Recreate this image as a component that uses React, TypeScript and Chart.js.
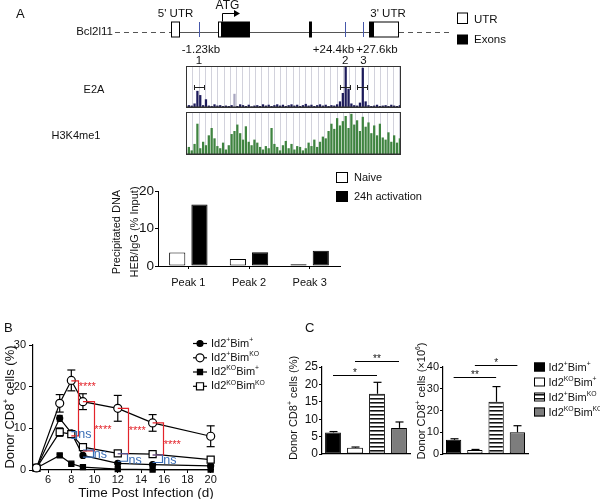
import React, { useEffect, useRef } from 'react';
import { Chart, registerables } from 'chart.js';

Chart.register(...registerables);

const FONT = '"Liberation Sans", Arial, Helvetica, sans-serif';
Chart.defaults.font.family = FONT;
Chart.defaults.color = '#111';

// ---------------- DATA ----------------
// Panel A – gene model (kb relative to TSS)
const trackMinKb = -3.5;
const trackMaxKb = 34.2;
const trackStepKb = 0.5;
const trackGridKb = 1.1;
const peakPositionsKb = [-1.23, 24.4, 27.6];
const peakDistanceLabels = ['-1.23kb', '+24.4kb', '+27.6kb'];
const peakNumbers = ['1', '2', '3'];
const utrBoxesKb = [[-6.13, -4.55], [2.11, 2.81], [29.29, 33.85]];
const exonBoxesKb = [[2.81, 7.72], [18.07, 18.59], [28.59, 29.29]];
const geneSolidKb = [-6.13, 33.85];
const geneDashedKb = [[-15.95, -6.13], [33.85, 42.8]];
const atgArrowKb = [2.81, 5.79];
const e2aPeakRegionsKb = [[-2.1, -0.34], [23.5, 25.26], [26.48, 28.24]];

const e2aSignal = [
  0.04, 0.06, 0.05, 0.10, 0.40, 0.30, 0.06, 0.20, 0.05, 0.04,
  0.08, 0.05, 0.06, 0.04, 0.05, 0.04, 0.06, 0.33, 0.04, 0.08,
  0.06, 0.04, 0.07, 0.03, 0.05, 0.06, 0.04, 0.08, 0.05, 0.07,
  0.04, 0.06, 0.08, 0.05, 0.07, 0.04, 0.06, 0.08, 0.05, 0.07,
  0.04, 0.06, 0.09, 0.05, 0.07, 0.04, 0.06, 0.08, 0.05, 0.07,
  0.04, 0.06, 0.05, 0.08, 0.15, 0.35, 1.00, 0.45, 0.10, 0.06,
  0.05, 0.12, 0.95, 0.15, 0.06, 0.04, 0.05, 0.07, 0.04, 0.05,
  0.06, 0.04, 0.07, 0.05, 0.04, 0.06,
];
const e2aFaintIndex = [17];

const h3k4me1Signal = [
  0.12, 0.18, 0.10, 0.25, 0.72, 0.15, 0.30, 0.22, 0.45, 0.62,
  0.38, 0.20, 0.15, 0.28, 0.12, 0.22, 0.48, 0.55, 0.70, 0.50,
  0.35, 0.66, 0.30, 0.22, 0.35, 0.28, 0.18, 0.12, 0.20, 0.15,
  0.62, 0.25, 0.18, 0.10, 0.22, 0.32, 0.15, 0.25, 0.12, 0.20,
  0.18, 0.10, 0.15, 0.28, 0.20, 0.35, 0.18, 0.30, 0.42, 0.38,
  0.55, 0.72, 0.60, 0.85, 0.68, 0.78, 0.90, 0.62, 0.95, 0.70,
  0.80, 0.55, 0.88, 0.65, 0.75, 0.50, 0.68, 0.45, 0.72, 0.40,
  0.35, 0.52, 0.30, 0.45, 0.28, 0.38,
];

// Panel A – ChIP bar chart
const peakCategories = ['Peak 1', 'Peak 2', 'Peak 3'];
const naiveValues = [3.6, 1.85, 0.5];
const activatedValues = [16.4, 3.7, 4.1];
const chipSeriesNames = ['Naive', '24h activation'];
const chipTicks = [0, 5, 10, 15, 20];

// Panel B – kinetics
const daysB = [5, 7, 8, 9, 12, 15, 20];
const id2WtBimWt = [0.5, 12.4, 8.9, 3.5, 1.6, 1.3, 1.0];
const id2WtBimWtErr = [0, 0.7, 0.5, 0.4, 0.3, 0.3, 0.2];
const id2WtBimKo = [0.5, 16.0, 21.5, 16.4, 14.8, 11.3, 8.1];
const id2WtBimKoErr = [0, 2.1, 2.5, 1.9, 3.1, 2.0, 2.5];
const id2KoBimWt = [0.5, 3.5, 1.5, 0.7, 0.2, 0.1, 0.1];
const id2KoBimWtErr = [0, 0.3, 0.2, 0.1, 0.05, 0.05, 0.05];
const id2KoBimKo = [0.5, 9.1, 8.6, 5.5, 4.0, 3.8, 2.5];
const id2KoBimKoErr = [0, 1.0, 0.6, 0.5, 0.4, 0.3, 0.3];
const xTicksB = [6, 8, 10, 12, 14, 16, 18, 20];
const yTicksB = [0, 10, 20, 30];
const legendB = ['Id2{+}Bim{+}', 'Id2{+}Bim{KO}', 'Id2{KO}Bim{+}', 'Id2{KO}Bim{KO}'];
const redBracketsB = [
  { x0: 8, xb: 8.55, yTop: 21.4, yBot: 8.2, lx: 8.64, ly: 20.7, label: '****' },
  { x0: 9, xb: 9.93, yTop: 16.4, yBot: 4.6, lx: 9.98, ly: 10.4, label: '****' },
  { x0: 12, xb: 12.86, yTop: 14.8, yBot: 3.9, lx: 12.94, ly: 10.0, label: '****' },
  { x0: 15, xb: 15.87, yTop: 11.3, yBot: 3.6, lx: 15.96, ly: 6.8, label: '****' },
];
const nsBracketsB = [
  { x0: 8, xb: 8.43, yTop: 9.2, yBot: 7.6, lx: 8.6, ly: 8.4, label: 'ns' },
  { x0: 9, xb: 9.84, yTop: 4.8, yBot: 3.1, lx: 9.93, ly: 3.6, label: 'ns' },
  { x0: 12, xb: 12.8, yTop: 3.9, yBot: 2.1, lx: 12.92, ly: 2.35, label: 'ns' },
  { x0: 15, xb: 15.8, yTop: 3.6, yBot: 1.8, lx: 15.92, ly: 2.35, label: 'ns' },
];

// Panel C
const groupsC = ['Id2{+}Bim{+}', 'Id2{KO}Bim{+}', 'Id2{+}Bim{KO}', 'Id2{KO}Bim{KO}'];
const percentValues = [6.2, 1.8, 17.3, 7.5];
const percentErr = [0.25, 0.2, 3.3, 1.7];
const countValues = [6.5, 1.8, 24.0, 10.0];
const countErr = [0.5, 0.3, 7.0, 3.0];
const yTicksPct = [0, 5, 10, 15, 20, 25];
const yTicksCount = [0, 10, 20, 30, 40];
const sigPct = [
  { from: 0, to: 2, y: 22.6, label: '*' },
  { from: 1, to: 3, y: 26.7, label: '**' },
];
const sigCount = [
  { from: 0, to: 2, y: 35.2, label: '**' },
  { from: 1, to: 3, y: 40.7, label: '*' },
];

// ---------------- HELPERS ----------------
type Seg = { t: string; sup: boolean };
function parseRich(label: string): Seg[] {
  const out: Seg[] = [];
  const re = /\{([^}]*)\}|([^{]+)/g;
  let m: RegExpExecArray | null;
  while ((m = re.exec(label))) {
    if (m[1] !== undefined) out.push({ t: m[1], sup: true });
    else out.push({ t: m[2], sup: false });
  }
  return out;
}
const fnt = (size: number) => `${size}px ${FONT}`;
function richWidth(ctx: CanvasRenderingContext2D, label: string, size: number) {
  let w = 0;
  for (const s of parseRich(label)) {
    ctx.font = fnt(s.sup ? size * 0.62 : size);
    w += ctx.measureText(s.t).width;
  }
  return w;
}
function drawRich(ctx: CanvasRenderingContext2D, label: string, x: number, y: number, size: number, align = 'left', color = '#111') {
  const w = richWidth(ctx, label, size);
  let cx = align === 'center' ? x - w / 2 : align === 'right' ? x - w : x;
  ctx.fillStyle = color;
  ctx.textAlign = 'left';
  ctx.textBaseline = 'middle';
  for (const s of parseRich(label)) {
    ctx.font = fnt(s.sup ? size * 0.62 : size);
    ctx.fillText(s.t, cx, s.sup ? y - size * 0.33 : y);
    cx += ctx.measureText(s.t).width;
  }
}
function drawRotated(ctx: CanvasRenderingContext2D, label: string, cx: number, cy: number, size: number) {
  ctx.save();
  ctx.translate(cx, cy);
  ctx.rotate(-Math.PI / 2);
  drawRich(ctx, label, 0, 0, size, 'center');
  ctx.restore();
}
function hline(ctx: CanvasRenderingContext2D, x1: number, x2: number, y: number) {
  ctx.beginPath(); ctx.moveTo(x1, y); ctx.lineTo(x2, y); ctx.stroke();
}
function vline(ctx: CanvasRenderingContext2D, x: number, y1: number, y2: number) {
  ctx.beginPath(); ctx.moveTo(x, y1); ctx.lineTo(x, y2); ctx.stroke();
}

const baseOptions = (padding: any) => ({
  animation: false,
  responsive: false,
  maintainAspectRatio: false,
  events: [],
  layout: { padding },
  plugins: { legend: { display: false }, tooltip: { enabled: false } },
});

// ---------------- PLUGINS ----------------
const trackFramePlugin = {
  id: 'trackFrame',
  beforeDatasetsDraw(chart: any) {
    const { ctx, chartArea: a } = chart;
    const xs = chart.scales.x;
    ctx.save();
    ctx.strokeStyle = '#d2d2dc';
    ctx.lineWidth = 1;
    for (let k = trackMinKb + trackGridKb; k < trackMaxKb; k += trackGridKb) {
      const px = Math.round(xs.getPixelForValue(k)) + 0.5;
      vline(ctx, px, a.top, a.bottom);
    }
    ctx.restore();
  },
  afterDatasetsDraw(chart: any) {
    const { ctx, chartArea: a } = chart;
    ctx.save();
    ctx.strokeStyle = '#333';
    ctx.lineWidth = 1;
    ctx.strokeRect(Math.round(a.left) + 0.5, Math.round(a.top) + 0.5, Math.round(a.right - a.left) - 1, Math.round(a.bottom - a.top) - 1);
    ctx.lineWidth = 1.5;
    hline(ctx, a.left, a.right, a.bottom - 0.8);
    ctx.restore();
  },
};

const genePlugin = {
  id: 'gene',
  afterDraw(chart: any) {
    const { ctx, chartArea: a } = chart;
    const xs = chart.scales.x;
    const ys = chart.scales.y;
    const X = (kb: number) => xs.getPixelForValue(kb);
    const yMid = 32, yTop = 21.5, yBot = 37.5;
    ctx.save();
    ctx.strokeStyle = '#555';
    ctx.lineWidth = 1;
    ctx.setLineDash([5, 4]);
    for (const [s, e] of geneDashedKb) hline(ctx, X(s), X(e), yMid + 0.5);
    ctx.setLineDash([]);
    hline(ctx, X(geneSolidKb[0]), X(geneSolidKb[1]), yMid + 0.5);
    // peak positions (blue)
    ctx.strokeStyle = '#4657aa';
    for (const p of peakPositionsKb) vline(ctx, Math.round(X(p)) + 0.5, 22, 37);
    // exons
    ctx.fillStyle = '#000';
    for (const [s, e] of exonBoxesKb) ctx.fillRect(X(s), yTop, X(e) - X(s), yBot - yTop);
    ctx.strokeStyle = '#000';
    ctx.fillStyle = '#fff';
    for (const [s, e] of utrBoxesKb) {
      ctx.fillRect(X(s), yTop, X(e) - X(s), yBot - yTop);
      ctx.strokeRect(Math.round(X(s)) + 0.5, yTop + 0.5, Math.round(X(e) - X(s)) - 1, yBot - yTop - 1);
    }
    // ATG arrow
    const ax = Math.round(X(atgArrowKb[0])) + 0.5, ae = X(atgArrowKb[1]);
    ctx.beginPath();
    ctx.moveTo(ax, yTop); ctx.lineTo(ax, 13.5); ctx.lineTo(ae - 3, 13.5); ctx.stroke();
    ctx.fillStyle = '#000';
    ctx.beginPath();
    ctx.moveTo(ae + 1, 13.5); ctx.lineTo(ae - 5, 10); ctx.lineTo(ae - 5, 17); ctx.closePath(); ctx.fill();
    drawRich(ctx, 'ATG', ax + 5, 6, 12, 'center');
    // UTR labels
    drawRich(ctx, "5' UTR", (X(utrBoxesKb[0][0]) + X(utrBoxesKb[0][1])) / 2, 14, 11.5, 'center');
    drawRich(ctx, "3' UTR", (X(exonBoxesKb[2][0]) + X(utrBoxesKb[2][1])) / 2 + 4, 14, 11.5, 'center');
    drawRich(ctx, 'Bcl2l11', X(geneDashedKb[0][0]) - 2, yMid, 11.5, 'right');
    // peak labels
    drawRich(ctx, peakDistanceLabels[0], X(peakPositionsKb[0]) + 2, 50, 11.5, 'center');
    drawRich(ctx, peakDistanceLabels[1], X(peakPositionsKb[1]) + 9, 50, 11.5, 'right');
    drawRich(ctx, peakDistanceLabels[2], X(peakPositionsKb[2]) - 7, 50, 11.5, 'left');
    peakNumbers.forEach((n, i) => drawRich(ctx, n, X(peakPositionsKb[i]), 61, 11.5, 'center'));
    // legend
    ctx.fillStyle = '#fff';
    ctx.strokeStyle = '#000';
    ctx.fillRect(457, 12.5, 11, 11.5);
    ctx.strokeRect(457.5, 13, 10, 10.5);
    ctx.fillStyle = '#000';
    ctx.fillRect(457, 34.5, 11, 10);
    drawRich(ctx, 'UTR', 474, 19.5, 11.5);
    drawRich(ctx, 'Exons', 474, 40, 11.5);
    // panel letter
    drawRich(ctx, 'A', 16, 14, 13);
    // track label
    drawRich(ctx, 'E2A', 94, (a.top + a.bottom) / 2 + 3, 11, 'center');
    // E2A peak regions
    ctx.strokeStyle = '#222';
    ctx.lineWidth = 1;
    const yr = Math.round(ys.getPixelForValue(0.5)) + 0.5;
    for (const [s, e] of e2aPeakRegionsKb) {
      hline(ctx, X(s), X(e), yr);
      vline(ctx, Math.round(X(s)) + 0.5, yr - 2.5, yr + 2.5);
      vline(ctx, Math.round(X(e)) + 0.5, yr - 2.5, yr + 2.5);
    }
    ctx.restore();
  },
};

const h3Plugin = {
  id: 'h3',
  afterDraw(chart: any) {
    const { ctx, chartArea: a } = chart;
    ctx.save();
    drawRich(ctx, 'H3K4me1', 76, (a.top + a.bottom) / 2 + 2, 11, 'center');
    ctx.restore();
  },
};

function trackConfig(values: number[], colors: string[], padding: any, plugin: any) {
  return {
    type: 'bar',
    data: {
      datasets: [{
        data: values.map((v, i) => ({ x: trackMinKb + i * trackStepKb, y: v })),
        backgroundColor: colors,
        borderWidth: 0,
        barThickness: 1.6,
        grouped: false,
      }],
    },
    options: {
      ...baseOptions(padding),
      scales: {
        x: { type: 'linear', offset: false, min: trackMinKb, max: trackMaxKb, display: false },
        y: { min: 0, max: 1, display: false },
      },
    },
    plugins: [trackFramePlugin, plugin],
  };
}

function e2aConfig() {
  const colors = e2aSignal.map((_, i) => (e2aFaintIndex.includes(i) ? '#a9a7c0' : '#1c1a5a'));
  return trackConfig(e2aSignal, colors, { left: 186, right: 199, top: 66, bottom: 2 }, genePlugin);
}
function h3Config() {
  const colors = h3k4me1Signal.map(() => '#3f8440');
  return trackConfig(h3k4me1Signal, colors, { left: 186, right: 199, top: 2, bottom: 7 }, h3Plugin);
}

// ChIP bar chart
const chipPlugin = {
  id: 'chipExtras',
  afterDraw(chart: any) {
    const { ctx } = chart;
    ctx.save();
    drawRotated(ctx, 'Precipitated DNA', 117, 72, 11);
    drawRotated(ctx, 'HEB/IgG (% Input)', 135, 72, 11);
    const ds = chart.data.datasets;
    ctx.lineWidth = 1;
    ctx.strokeStyle = '#000';
    ctx.fillStyle = ds[0].backgroundColor;
    ctx.fillRect(336, 12, 12, 11);
    ctx.strokeRect(336.5, 12.5, 11, 10);
    ctx.fillStyle = ds[1].backgroundColor;
    ctx.fillRect(336, 31, 12, 11);
    drawRich(ctx, chipSeriesNames[0], 354, 18, 11);
    drawRich(ctx, chipSeriesNames[1], 354, 37, 11);
    ctx.restore();
  },
};
function chipConfig() {
  const common = { borderColor: '#000', borderWidth: 1, categoryPercentage: 0.733, barPercentage: 0.727, borderSkipped: false };
  return {
    type: 'bar',
    data: {
      labels: peakCategories,
      datasets: [
        { label: chipSeriesNames[0], data: naiveValues, backgroundColor: '#ffffff', ...common },
        { label: chipSeriesNames[1], data: activatedValues, backgroundColor: '#000000', ...common },
      ],
    },
    options: {
      ...baseOptions({ left: 130, right: 260, top: 31, bottom: 4 }),
      scales: {
        x: {
          grid: { display: true, drawOnChartArea: false, offset: false, tickLength: 3, color: '#000' },
          border: { color: '#000', width: 1 },
          ticks: { font: { size: 11 }, color: '#111', padding: 7 },
          afterFit: (s: any) => { s.height = 30; },
        },
        y: {
          min: 0, max: 20,
          afterBuildTicks: (s: any) => { s.ticks = chipTicks.map((v) => ({ value: v })); },
          grid: { drawOnChartArea: false, tickLength: 3, color: '#000' },
          border: { color: '#000', width: 1 },
          ticks: { font: { size: 13.5 }, color: '#111', padding: 1 },
          afterFit: (s: any) => { s.width = 28; },
        },
      },
    },
    plugins: [chipPlugin],
  };
}

// Panel B
const seriesB = [
  { name: legendB[0], values: id2WtBimWt, err: id2WtBimWtErr, style: 'circle', radius: 3, fill: '#000', order: 2, cap: 3 },
  { name: legendB[1], values: id2WtBimKo, err: id2WtBimKoErr, style: 'circle', radius: 4, fill: '#fff', order: 0, cap: 4 },
  { name: legendB[2], values: id2KoBimWt, err: id2KoBimWtErr, style: 'rect', radius: 3.6, fill: '#000', order: 3, cap: 3 },
  { name: legendB[3], values: id2KoBimKo, err: id2KoBimKoErr, style: 'rect', radius: 5, fill: '#fff', order: 1, cap: 3.5 },
];
function drawMarker(ctx: CanvasRenderingContext2D, style: string, x: number, y: number, r: number, fill: string) {
  ctx.fillStyle = fill;
  ctx.strokeStyle = '#000';
  ctx.lineWidth = 1.2;
  ctx.beginPath();
  if (style === 'circle') ctx.arc(x, y, r, 0, Math.PI * 2);
  else { const h = r * Math.SQRT1_2; ctx.rect(x - h, y - h, 2 * h, 2 * h); }
  ctx.fill();
  ctx.stroke();
}
const kineticsPlugin = {
  id: 'kinetics',
  beforeDatasetsDraw(chart: any) {
    const { ctx } = chart;
    const ys = chart.scales.y, xs = chart.scales.x;
    ctx.save();
    ctx.strokeStyle = '#000';
    ctx.lineWidth = 1.2;
    seriesB.forEach((s) => {
      s.values.forEach((v, i) => {
        if (!s.err[i]) return;
        const x = xs.getPixelForValue(daysB[i]);
        const y1 = ys.getPixelForValue(v + s.err[i]);
        const y2 = ys.getPixelForValue(Math.max(0, v - s.err[i]));
        vline(ctx, x, y1, y2);
        hline(ctx, x - s.cap, x + s.cap, y1);
        hline(ctx, x - s.cap, x + s.cap, y2);
      });
    });
    ctx.restore();
  },
  afterDatasetsDraw(chart: any) {
    const { ctx } = chart;
    const ys = chart.scales.y, xs = chart.scales.x;
    ctx.save();
    ctx.lineWidth = 1.2;
    const draw = (list: any[], color: string, size: number, dy: number) => {
      ctx.strokeStyle = color;
      for (const b of list) {
        const x0 = xs.getPixelForValue(b.x0), xb = Math.round(xs.getPixelForValue(b.xb)) + 0.5;
        const yt = ys.getPixelForValue(b.yTop), yb = ys.getPixelForValue(b.yBot);
        ctx.beginPath();
        ctx.moveTo(x0, yt); ctx.lineTo(xb, yt); ctx.lineTo(xb, yb); ctx.lineTo(x0, yb);
        ctx.stroke();
        drawRich(ctx, b.label, xs.getPixelForValue(b.lx), ys.getPixelForValue(b.ly) + dy, size, 'left', color);
      }
    };
    draw(redBracketsB, '#e3242b', 11, 3);
    draw(nsBracketsB, '#3a6db5', 12.5, 0);
    ctx.restore();
  },
  afterDraw(chart: any) {
    const { ctx } = chart;
    ctx.save();
    drawRich(ctx, 'B', 4, 28, 13);
    drawRotated(ctx, 'Donor CD8{+} cells (%)', 10, 107, 13);
    drawRich(ctx, 'Time Post Infection (d)', 146, 193, 13.5, 'center');
    const rows = [43.5, 57.8, 72, 86.3];
    seriesB.forEach((s, i) => {
      ctx.strokeStyle = '#000';
      ctx.lineWidth = 1.2;
      hline(ctx, 193, 207, rows[i]);
      drawMarker(ctx, s.style, 200, rows[i], s.radius, s.fill);
      drawRich(ctx, s.name, 211, rows[i], 11);
    });
    ctx.restore();
  },
};
function kineticsConfig() {
  return {
    type: 'line',
    data: {
      datasets: seriesB.map((s) => ({
        label: s.name,
        data: s.values.map((v, i) => ({ x: daysB[i], y: v })),
        borderColor: '#000',
        borderWidth: 1.2,
        pointStyle: s.style,
        pointRadius: s.radius,
        pointBackgroundColor: s.fill,
        pointBorderColor: '#000',
        pointBorderWidth: 1.2,
        order: s.order,
        clip: false,
        tension: 0,
      })),
    },
    options: {
      ...baseOptions({ left: 13, right: 67, top: 45, bottom: 0 }),
      scales: {
        x: {
          type: 'linear', min: 4.7, max: 20.2,
          afterBuildTicks: (s: any) => { s.ticks = xTicksB.map((v) => ({ value: v })); },
          grid: { drawOnChartArea: false, tickLength: 3, color: '#000' },
          border: { color: '#000', width: 1.2 },
          ticks: { font: { size: 11 }, color: '#111', padding: 0, maxRotation: 0, autoSkip: false },
          afterFit: (s: any) => { s.height = 29; },
        },
        y: {
          min: 0, max: 30,
          afterBuildTicks: (s: any) => { s.ticks = yTicksB.map((v) => ({ value: v })); },
          grid: { drawOnChartArea: false, tickLength: 4, color: '#000' },
          border: { color: '#000', width: 1.2 },
          ticks: { font: { size: 11 }, color: '#111', padding: 3 },
          afterFit: (s: any) => { s.width = 20; },
        },
      },
    },
    plugins: [kineticsPlugin],
  };
}

// Panel C
function stripePattern(): CanvasPattern | string {
  const c = document.createElement('canvas');
  c.width = 4; c.height = 4;
  const g = c.getContext('2d');
  if (!g) return '#999';
  g.fillStyle = '#fff'; g.fillRect(0, 0, 4, 4);
  g.fillStyle = '#111'; g.fillRect(0, 0, 4, 1);
  g.fillStyle = '#777'; g.fillRect(0, 1, 4, 1);
  return g.createPattern(c, 'repeat') || '#999';
}
const fillsC = () => ['#000000', '#ffffff', stripePattern(), '#7d7d7d'];

function cExtrasPlugin(err: number[], sig: any[], title: string, titleX: number, titleY: number, letter: boolean, legend: boolean) {
  return {
    id: 'cExtras',
    afterDatasetsDraw(chart: any) {
      const { ctx } = chart;
      const ys = chart.scales.y, xs = chart.scales.x;
      const meta = chart.getDatasetMeta(0);
      const vals = chart.data.datasets[0].data;
      ctx.save();
      ctx.strokeStyle = '#000';
      ctx.lineWidth = 1.2;
      meta.data.forEach((bar: any, i: number) => {
        if (!err[i]) return;
        const x = Math.round(bar.x) + 0.5;
        const yv = ys.getPixelForValue(vals[i]);
        const ye = ys.getPixelForValue(vals[i] + err[i]);
        vline(ctx, x, yv, ye);
        hline(ctx, x - 4, x + 4, ye);
      });
      ctx.lineWidth = 1;
      for (const s of sig) {
        const y = Math.round(ys.getPixelForValue(s.y)) + 0.5;
        const x1 = xs.getPixelForValue(s.from), x2 = xs.getPixelForValue(s.to);
        hline(ctx, x1, x2, y);
        drawRich(ctx, s.label, (x1 + x2) / 2, y - 2, 10, 'center');
      }
      ctx.restore();
    },
    afterDraw(chart: any) {
      const { ctx } = chart;
      ctx.save();
      drawRotated(ctx, title, titleX, titleY, 11);
      if (letter) drawRich(ctx, 'C', 25, 18, 13);
      if (legend) {
        const fills = chart.data.datasets[0].backgroundColor;
        const tops = [52.5, 67.5, 82.5, 97.5];
        groupsC.forEach((g, i) => {
          ctx.fillStyle = fills[i];
          ctx.fillRect(119, tops[i], 11, 9);
          ctx.strokeStyle = '#000';
          ctx.lineWidth = 1;
          ctx.strokeRect(119.5, tops[i] + 0.5, 10, 8);
          drawRich(ctx, g, 133.5, tops[i] + 5, 11);
        });
      }
      ctx.restore();
    },
  };
}
function cConfig(values: number[], err: number[], max: number, ticks: number[], sig: any[], padding: any, tickSize: number, title: string, titleX: number, titleY: number, letter: boolean, legend: boolean) {
  return {
    type: 'bar',
    data: {
      labels: groupsC,
      datasets: [{
        data: values,
        backgroundColor: fillsC(),
        borderColor: '#000',
        borderWidth: 1,
        borderSkipped: false,
        categoryPercentage: 1,
        barPercentage: 0.72,
      }],
    },
    options: {
      ...baseOptions(padding),
      scales: {
        x: {
          grid: { display: false },
          ticks: { display: false },
          border: { color: '#000', width: 1.2 },
          afterFit: (s: any) => { s.height = 2; },
        },
        y: {
          min: 0, max,
          afterBuildTicks: (s: any) => { s.ticks = ticks.map((v) => ({ value: v })); },
          grid: { drawOnChartArea: false, tickLength: 3, color: '#000' },
          border: { color: '#000', width: 1.2 },
          ticks: { font: { size: tickSize }, color: '#111', padding: 1 },
          afterFit: (s: any) => { s.width = 22; },
        },
      },
    },
    plugins: [cExtrasPlugin(err, sig, title, titleX, titleY, letter, legend)],
  };
}

// ---------------- COMPONENTS ----------------
function ChartBox(props: { left: number; top: number; width: number; height: number; make: () => any }) {
  const ref = useRef<HTMLCanvasElement>(null);
  useEffect(() => {
    if (!ref.current) return;
    const chart = new Chart(ref.current, props.make());
    return () => chart.destroy();
  }, []);
  return (
    <canvas
      ref={ref}
      width={props.width}
      height={props.height}
      style={{ position: 'absolute', left: props.left, top: props.top, width: props.width, height: props.height }}
    />
  );
}

export default function App() {
  return (
    <div style={{ position: 'fixed', left: 0, top: 0, width: 600, height: 499, background: '#fff', overflow: 'hidden' }}>
      <ChartBox left={0} top={0} width={600} height={110} make={e2aConfig} />
      <ChartBox left={0} top={110} width={600} height={52} make={h3Config} />
      <ChartBox left={0} top={160} width={600} height={140} make={chipConfig} />
      <ChartBox left={0} top={300} width={280} height={199} make={kineticsConfig} />
      <ChartBox
        left={280} top={310} width={135} height={160}
        make={() => cConfig(percentValues, percentErr, 25, yTicksPct, sigPct, { left: 20, right: 5, top: 57, bottom: 14 }, 12, 'Donor CD8{+} cells (%)', 14, 98, true, false)}
      />
      <ChartBox
        left={415} top={310} width={185} height={160}
        make={() => cConfig(countValues, countErr, 40, yTicksCount, sigCount, { left: 6, right: 72, top: 57, bottom: 14 }, 11, 'Donor CD8{+} cells (\u00d710{6})', 7, 91, false, true)}
      />
    </div>
  );
}
